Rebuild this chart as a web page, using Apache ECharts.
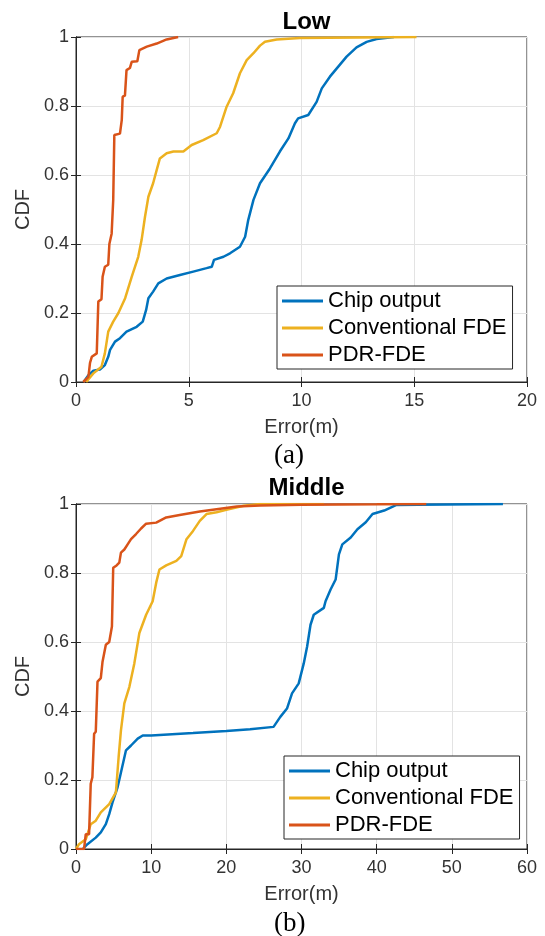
<!DOCTYPE html>
<html>
<head>
<meta charset="utf-8">
<script src="https://cdn.jsdelivr.net/npm/echarts@6/dist/echarts.min.js"></script>
<style>
  html, body { margin: 0; padding: 0; background: #fff; }
  #chart { width: 545px; height: 936px; }
</style>
</head>
<body>
<div id="chart"></div>
<script>
  // Data (error in m, CDF)
  var seriesNames = ['Chip output', 'Conventional FDE', 'PDR-FDE'];
  var lineColors = ['#0072BD', '#EDB120', '#D95319'];

  // (a) Low
  var lowChip = [[0.34,0],[0.55,0.02],[0.77,0.033],[1.06,0.036],[1.28,0.049],[1.43,0.073],[1.51,0.093],[1.73,0.117],[1.95,0.127],[2.24,0.146],[2.69,0.16],[2.96,0.175],[3.11,0.209],[3.21,0.243],[3.42,0.262],[3.65,0.286],[4.02,0.30],[4.61,0.31],[5.2,0.32],[5.79,0.33],[6.02,0.334],[6.12,0.354],[6.54,0.363],[6.83,0.373],[7.27,0.392],[7.5,0.421],[7.64,0.47],[7.87,0.528],[8.16,0.576],[8.6,0.619],[9.04,0.668],[9.42,0.706],[9.71,0.75],[9.85,0.764],[10.3,0.774],[10.67,0.812],[10.9,0.851],[11.26,0.885],[11.63,0.914],[12.0,0.943],[12.44,0.97],[12.89,0.986],[13.33,0.994],[14.1,1.0]];
  var lowConv = [[0.45,0],[0.77,0.025],[1.13,0.044],[1.28,0.083],[1.43,0.146],[1.65,0.175],[1.88,0.2],[2.18,0.243],[2.47,0.305],[2.76,0.363],[2.91,0.412],[3.06,0.479],[3.21,0.537],[3.42,0.576],[3.58,0.615],[3.72,0.648],[4.02,0.663],[4.32,0.668],[4.76,0.668],[5.13,0.687],[5.64,0.701],[6.24,0.721],[6.39,0.74],[6.68,0.798],[6.97,0.837],[7.27,0.895],[7.57,0.933],[7.87,0.953],[8.16,0.975],[8.38,0.986],[8.9,0.993],[9.93,0.997],[15.1,1.0]];
  var lowPdr = [[0.32,0],[0.55,0.015],[0.62,0.055],[0.70,0.073],[0.92,0.083],[0.99,0.083],[0.99,0.233],[1.13,0.24],[1.18,0.305],[1.28,0.334],[1.43,0.34],[1.48,0.40],[1.58,0.43],[1.65,0.527],[1.70,0.716],[1.95,0.72],[2.03,0.76],[2.07,0.827],[2.17,0.83],[2.24,0.904],[2.39,0.91],[2.47,0.928],[2.72,0.93],[2.81,0.962],[3.14,0.972],[3.58,0.981],[4.02,0.993],[4.53,1.0]];

  // (b) Middle
  var midChip = [[0.9,0],[1.52,0.014],[2.63,0.033],[3.3,0.048],[3.97,0.072],[4.42,0.101],[4.86,0.135],[5.53,0.179],[5.98,0.222],[6.65,0.286],[7.32,0.30],[8.21,0.32],[8.88,0.329],[10.0,0.329],[15.57,0.336],[20.0,0.342],[23.16,0.347],[26.28,0.354],[27.18,0.383],[28.07,0.407],[28.74,0.451],[29.63,0.48],[30.3,0.538],[30.75,0.587],[31.2,0.65],[31.63,0.679],[32.97,0.699],[33.2,0.718],[33.87,0.752],[34.54,0.781],[34.98,0.854],[35.43,0.883],[36.55,0.903],[37.44,0.927],[38.55,0.947],[39.45,0.971],[41.0,0.981],[42.57,0.997],[45.5,0.998],[56.8,1.0]];
  var midConv = [[0,0],[0.4,0.014],[1.3,0.028],[1.96,0.072],[2.63,0.082],[3.3,0.106],[4.42,0.13],[5.31,0.164],[5.67,0.266],[5.98,0.344],[6.43,0.422],[7.1,0.47],[7.76,0.538],[8.43,0.626],[9.33,0.679],[10.2,0.718],[10.67,0.772],[11.1,0.81],[12.0,0.822],[13.35,0.835],[14.0,0.849],[14.7,0.898],[15.57,0.922],[16.47,0.951],[17.36,0.971],[18.7,0.976],[20.0,0.983],[22.3,0.995],[24.5,1.0],[33,1.0]];
  var midPdr = [[0,0],[1.07,0],[1.3,0.043],[1.74,0.043],[1.96,0.189],[2.18,0.208],[2.41,0.334],[2.63,0.34],[2.86,0.485],[3.3,0.495],[3.53,0.543],[3.75,0.548],[3.97,0.592],[4.42,0.6],[4.64,0.602],[4.78,0.645],[4.95,0.815],[5.4,0.822],[5.76,0.83],[5.98,0.859],[6.43,0.868],[6.87,0.883],[7.32,0.898],[7.99,0.913],[8.66,0.929],[9.33,0.943],[10.67,0.946],[12.0,0.961],[13.79,0.968],[16.47,0.978],[18.7,0.985],[21.4,0.993],[24.5,0.996],[30,0.998],[40,0.999],[46.6,1.0]];

  var panels = [
    { title: 'Low', tag: '(a)', xMax: 20, xStep: 5, data: [lowChip, lowConv, lowPdr] },
    { title: 'Middle', tag: '(b)', xMax: 60, xStep: 10, data: [midChip, midConv, midPdr] }
  ];

  var sans = '"Liberation Sans", Arial, sans-serif';
  var axisColor = '#262626';

  var grids = [
    { left: 76, top: 37, width: 451, height: 345 },
    { left: 76, top: 504, width: 451, height: 345 }
  ];
  var legendPos = [
    { left: 277, top: 286 },
    { left: 284, top: 756 }
  ];
  var titleTop = [5, 471];
  var tagY = [457, 925];

  var option = {
    animation: false,
    backgroundColor: '#fff',
    textStyle: { fontFamily: sans },
    title: [],
    grid: [],
    legend: [],
    xAxis: [],
    yAxis: [],
    series: [],
    graphic: []
  };

  panels.forEach(function (p, i) {
    var g = grids[i];
    option.grid.push({
      left: g.left, top: g.top, width: g.width, height: g.height,
      show: true, borderColor: axisColor, borderWidth: 1, backgroundColor: '#fff'
    });
    option.title.push({
      text: p.title,
      left: g.left + g.width / 2,
      top: titleTop[i],
      textAlign: 'center',
      textStyle: { fontFamily: sans, fontSize: 24, fontWeight: 'bold', color: '#000' }
    });
    option.legend.push({
      left: legendPos[i].left,
      top: legendPos[i].top,
      orient: 'vertical',
      data: seriesNames,
      icon: 'rect',
      itemWidth: 41,
      itemHeight: 3,
      itemGap: 5,
      padding: [4, 6, 3, 5],
      backgroundColor: '#fff',
      borderColor: axisColor,
      borderWidth: 1,
      selectedMode: false,
      textStyle: { fontFamily: sans, fontSize: 22, color: '#000' }
    });
    // main axes
    option.xAxis.push({
      gridIndex: i, type: 'value', min: 0, max: p.xMax, interval: p.xStep,
      name: 'Error(m)', nameLocation: 'middle', nameGap: 35,
      nameTextStyle: { fontFamily: sans, fontSize: 20, color: '#333' },
      axisLine: { show: true, lineStyle: { color: axisColor } },
      axisTick: { show: true, inside: true, length: 5, lineStyle: { color: axisColor } },
      axisLabel: { fontFamily: sans, fontSize: 18, color: '#333', margin: 10 },
      splitLine: { show: true, lineStyle: { color: '#e3e3e3' } }
    });
    option.yAxis.push({
      gridIndex: i, type: 'value', min: 0, max: 1, interval: 0.2,
      name: 'CDF', nameLocation: 'middle', nameGap: 38,
      nameTextStyle: { fontFamily: sans, fontSize: 20, color: '#333' },
      axisLine: { show: true, lineStyle: { color: axisColor } },
      axisTick: { show: true, inside: true, length: 5, lineStyle: { color: axisColor } },
      axisLabel: { fontFamily: sans, fontSize: 18, color: '#333', margin: 7 },
      splitLine: { show: true, lineStyle: { color: '#e3e3e3' } }
    });
    // mirrored box axes (ticks only)
    option.xAxis.push({
      gridIndex: i, type: 'value', position: 'top', min: 0, max: p.xMax, interval: p.xStep,
      axisLine: { show: true, lineStyle: { color: axisColor } },
      axisTick: { show: true, inside: true, length: 5, lineStyle: { color: axisColor } },
      axisLabel: { show: false }, splitLine: { show: false }
    });
    option.yAxis.push({
      gridIndex: i, type: 'value', position: 'right', min: 0, max: 1, interval: 0.2,
      axisLine: { show: true, lineStyle: { color: axisColor } },
      axisTick: { show: true, inside: true, length: 5, lineStyle: { color: axisColor } },
      axisLabel: { show: false }, splitLine: { show: false }
    });
    p.data.forEach(function (d, k) {
      option.series.push({
        name: seriesNames[k],
        type: 'line',
        xAxisIndex: i * 2,
        yAxisIndex: i * 2,
        data: d,
        showSymbol: false,
        symbol: 'none',
        lineStyle: { width: 2.5, color: lineColors[k] },
        itemStyle: { color: lineColors[k] },
        z: 2 + k
      });
    });
    option.graphic.push({
      type: 'text',
      left: 291 - 17,
      top: tagY[i] - 15,
      style: { text: p.tag, font: '27px "Liberation Serif", "Times New Roman", serif', fill: '#000' }
    });
  });

  var chart = echarts.init(document.getElementById('chart'), null, { renderer: 'canvas' });
  chart.setOption(option);
</script>
</body>
</html>
